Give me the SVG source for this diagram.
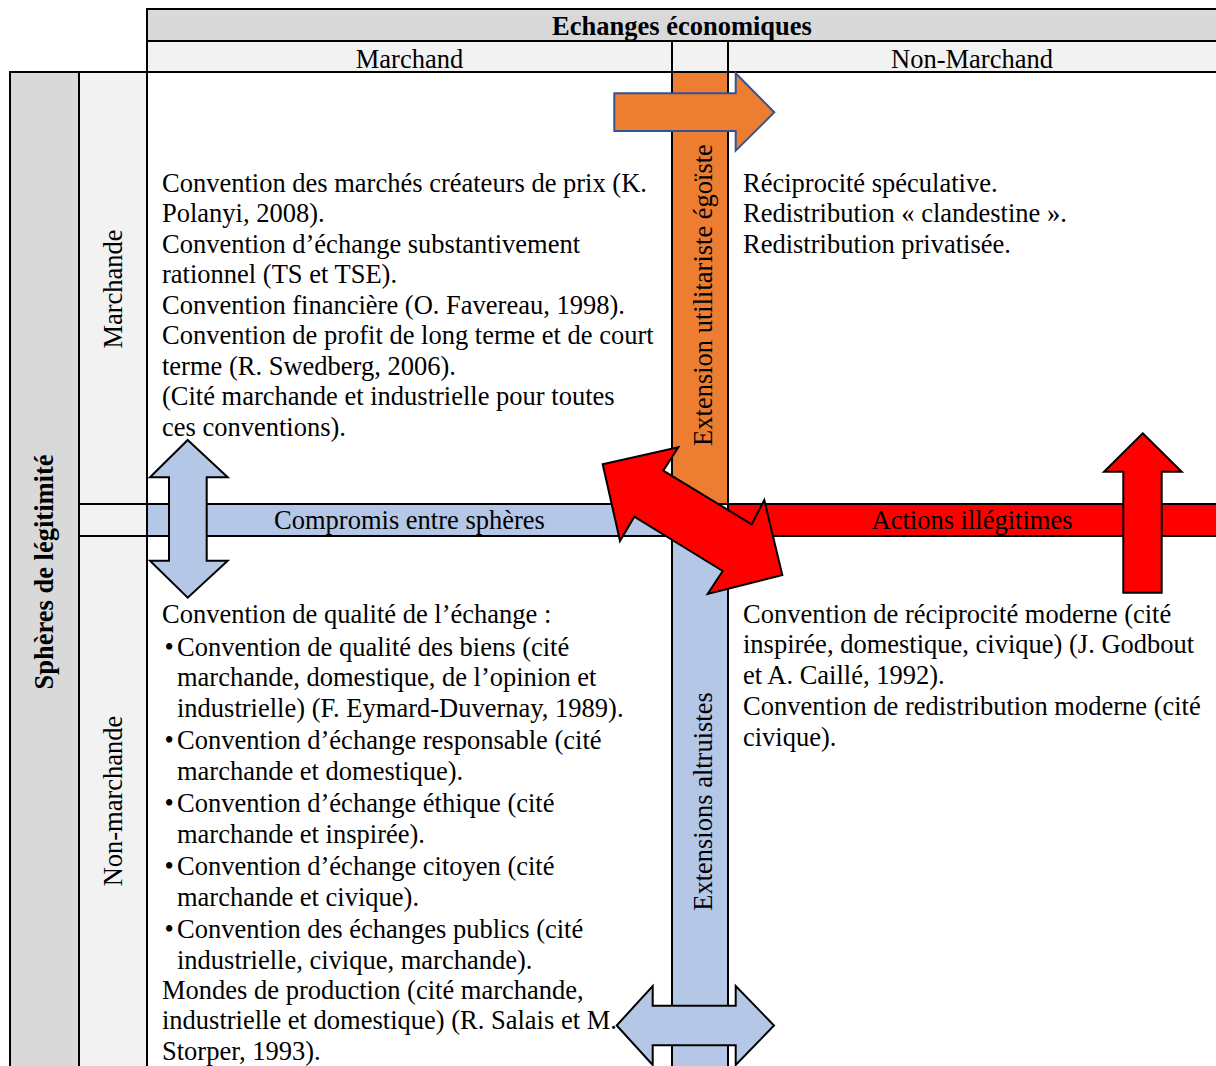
<svg xmlns="http://www.w3.org/2000/svg" width="1216" height="1066" viewBox="0 0 1216 1066">
<style>
text{font-family:"Liberation Serif","Times New Roman",serif;font-size:26.5px;fill:#000}
.b{font-weight:bold}
.m{text-anchor:middle}
.grid{stroke:#000;stroke-width:2;fill:none}
.arr{stroke:#000;stroke-width:2;stroke-linejoin:miter}
</style>
<rect width="1216" height="1066" fill="#fff"/>
<g id="header">
<rect x="147" y="9" width="1069" height="32" fill="#D9D9D9"/>
<rect x="147" y="41" width="1069" height="31" fill="#F2F2F2"/>
<text class="b m" x="682" y="35">Echanges économiques</text>
<text class="m" x="409.5" y="67.5">Marchand</text>
<text class="m" x="972" y="67.5">Non-Marchand</text>
</g>
<g id="left-columns">
<rect x="10" y="72" width="69" height="994" fill="#D9D9D9"/>
<rect x="79" y="72" width="68" height="994" fill="#F2F2F2"/>
<text class="b m" transform="translate(53,572) rotate(-90)">Sphères de légitimité</text>
<text class="m" transform="translate(122,289) rotate(-90)">Marchande</text>
<text class="m" transform="translate(122,801) rotate(-90)">Non-marchande</text>
</g>
<g id="bands">
<rect id="band-egoiste" x="672" y="72" width="56" height="432" fill="#ED7D31"/>
<rect id="band-altruistes" x="672" y="536" width="56" height="530" fill="#B4C7E7"/>
<rect id="band-compromis" x="147" y="504" width="525" height="32" fill="#B4C7E7"/>
<rect id="band-illegitimes" x="728" y="504" width="488" height="32" fill="#FF0000"/>
</g>
<g id="grid" class="grid">
<line x1="147" y1="9" x2="1216" y2="9"/>
<line x1="147" y1="41" x2="1216" y2="41"/>
<line x1="10" y1="72" x2="1216" y2="72"/>
<line x1="79" y1="504" x2="1216" y2="504"/>
<line x1="79" y1="536" x2="1216" y2="536"/>
<line x1="10" y1="71" x2="10" y2="1066"/>
<line x1="79" y1="72" x2="79" y2="1066"/>
<line x1="147" y1="8" x2="147" y2="1066"/>
<line x1="672" y1="41" x2="672" y2="1066"/>
<line x1="728" y1="41" x2="728" y2="1066"/>
</g>
<g id="band-labels">
<text class="m" transform="translate(712,295) rotate(-90)">Extension utilitariste égoïste</text>
<text class="m" transform="translate(712,801.5) rotate(-90)">Extensions altruistes</text>
<text class="m" x="409.5" y="529">Compromis entre sphères</text>
<text class="m" x="972" y="529">Actions illégitimes</text>
</g>
<g id="cell-marchand-marchande">
<text x="162" y="191.5">Convention des marchés créateurs de prix (K.</text>
<text x="162" y="222">Polanyi, 2008).</text>
<text x="162" y="252.5">Convention d’échange substantivement</text>
<text x="162" y="283">rationnel (TS et TSE).</text>
<text x="162" y="313.5">Convention financière (O. Favereau, 1998).</text>
<text x="162" y="344">Convention de profit de long terme et de court</text>
<text x="162" y="374.5">terme (R. Swedberg, 2006).</text>
<text x="162" y="405">(Cité marchande et industrielle pour toutes</text>
<text x="162" y="435.5">ces conventions).</text>
</g>
<g id="cell-nonmarchand-marchande">
<text x="743" y="191.5">Réciprocité spéculative.</text>
<text x="743" y="222">Redistribution « clandestine ».</text>
<text x="743" y="252.5">Redistribution privatisée.</text>
</g>
<g id="cell-marchand-nonmarchande">
<text x="162" y="622.5">Convention de qualité de l’échange :</text>
<text x="164.5" y="655.5">•</text><text x="177" y="655.5">Convention de qualité des biens (cité</text>
<text x="177" y="686">marchande, domestique, de l’opinion et</text>
<text x="177" y="716.5">industrielle) (F. Eymard-Duvernay, 1989).</text>
<text x="164.5" y="749">•</text><text x="177" y="749">Convention d’échange responsable (cité</text>
<text x="177" y="779.5">marchande et domestique).</text>
<text x="164.5" y="812">•</text><text x="177" y="812">Convention d’échange éthique (cité</text>
<text x="177" y="842.5">marchande et inspirée).</text>
<text x="164.5" y="875">•</text><text x="177" y="875">Convention d’échange citoyen (cité</text>
<text x="177" y="905.5">marchande et civique).</text>
<text x="164.5" y="938">•</text><text x="177" y="938">Convention des échanges publics (cité</text>
<text x="177" y="968.5">industrielle, civique, marchande).</text>
<text x="162" y="998.5">Mondes de production (cité marchande,</text>
<text x="162" y="1029">industrielle et domestique) (R. Salais et M.</text>
<text x="162" y="1059.5">Storper, 1993).</text>
</g>
<g id="cell-nonmarchand-nonmarchande">
<text x="743" y="622.5">Convention de réciprocité moderne (cité</text>
<text x="743" y="653">inspirée, domestique, civique) (J. Godbout</text>
<text x="743" y="683.5">et A. Caillé, 1992).</text>
<text x="743" y="715">Convention de redistribution moderne (cité</text>
<text x="743" y="745.5">civique).</text>
</g>
<g id="connectors">
<polygon id="arrow-orange" points="614.3,93.3 735.7,93.3 735.7,73.3 774.3,112.3 735.7,150.7 735.7,131 614.3,131" fill="#ED7D31" stroke="#2F5597" stroke-width="2"/>
<polygon id="arrow-compromis" class="arr" points="187.7,440 227.7,477.3 206.7,477.3 206.7,560.7 227.7,560.7 187.7,597.7 150,560.7 169,560.7 169,477.3 150,477.3" fill="#B4C7E7"/>
<polygon id="arrow-red-diag" class="arr" points="602.7,464.3 678.3,447.3 663.3,470.7 751.7,524.3 764.3,500 782.3,575 707.7,594 722.7,571 634.3,516.7 620,541" fill="#FF0000"/>
<polygon id="arrow-red-up" class="arr" points="1142.7,433.3 1181.7,471.7 1161.7,471.7 1161.7,592.7 1123.3,592.7 1123.3,471.7 1104,471.7" fill="#FF0000"/>
<polygon id="arrow-altruistes" class="arr" points="616.7,1025.5 652.7,986 652.7,1005.7 735.7,1005.7 735.7,986 774,1025.5 735.7,1065 735.7,1045.3 652.7,1045.3 652.7,1065" fill="#B4C7E7"/>
</g>
</svg>
